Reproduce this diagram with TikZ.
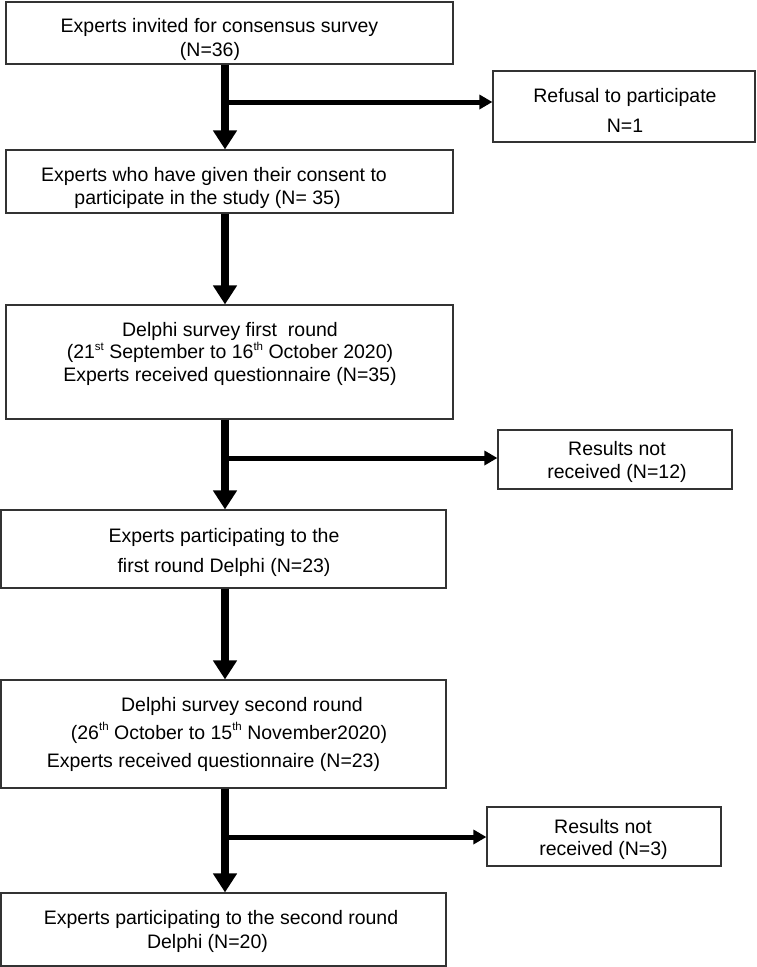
\documentclass[tikz,border=0pt]{standalone}
\usepackage{fontspec}
\setmainfont{Liberation Sans}
\usetikzlibrary{arrows.meta}
\newcommand\supx[1]{\raisebox{0.42em}{\fontsize{11.5}{12}\selectfont #1}}
\begin{document}
\begin{tikzpicture}[x=1pt,y=-1pt,
  box/.style={draw=black!80, line width=1.2pt, rectangle, inner sep=0pt},
  txt/.style={anchor=base, inner sep=0pt, font=\fontsize{19.5}{23}\selectfont},
  mainarrow/.style={line width=7.5pt, -{Triangle[width=23pt,length=19pt]}},
  sidearrow/.style={line width=5pt, -{Triangle[width=14pt,length=13pt]}}]
\useasboundingbox (0,0) rectangle (757,967);
\fill[white] (0,0) rectangle (757,967);
% boxes
\node[box, minimum width=447pt, minimum height=62pt]  (b1) at (229.5,33) {};
\node[box, minimum width=447pt, minimum height=63pt]  (b2) at (229.5,181.5) {};
\node[box, minimum width=447pt, minimum height=114pt] (b3) at (229.5,362) {};
\node[box, minimum width=445pt, minimum height=78pt]  (b4) at (223.5,549) {};
\node[box, minimum width=445pt, minimum height=108pt] (b5) at (223.5,734) {};
\node[box, minimum width=445pt, minimum height=73pt]  (b6) at (223.5,929.5) {};
\node[box, minimum width=262pt, minimum height=71pt]  (r1) at (624,106.5) {};
\node[box, minimum width=234pt, minimum height=59pt]  (r2) at (615,459.5) {};
\node[box, minimum width=234pt, minimum height=59pt]  (r3) at (604,836.5) {};
% texts
\node[txt] (t1a) at (219.5,32) {Experts invited for consensus survey};
\node[txt] (t1b) at (210,56) {(N=36)};
\node[txt] (t2a) at (214,181) {Experts who have given their consent to};
\node[txt] (t2b) at (207.5,204) {participate in the study (N= 35)};
\node[txt] (t3a) at (230,336) {Delphi survey first\ \ round};
\node[txt] (t3b) at (230,358.5) {(21\supx{st} September to 16\supx{th} October 2020)};
\node[txt] (t3c) at (230,381) {Experts received questionnaire (N=35)};
\node[txt] (t4a) at (224,542) {Experts participating to the};
\node[txt] (t4b) at (224,572) {first round Delphi (N=23)};
\node[txt] (t5a) at (242,711) {Delphi survey second round};
\node[txt] (t5b) at (229,739) {(26\supx{th} October to 15\supx{th} November2020)};
\node[txt] (t5c) at (213.5,767) {Experts received questionnaire (N=23)};
\node[txt] (t6a) at (221,924) {Experts participating to the second round};
\node[txt] (t6b) at (207.5,948) {Delphi (N=20)};
\node[txt] (s1a) at (625,102) {Refusal to participate};
\node[txt] (s1b) at (625,132) {N=1};
\node[txt] (s2a) at (617,455) {Results not};
\node[txt] (s2b) at (617,478) {received (N=12)};
\node[txt] (s3a) at (603,833) {Results not};
\node[txt] (s3b) at (603.5,855) {received (N=3)};
% connectors
\coordinate (spine) at (225,0);
\draw[mainarrow] (b1.south -| spine) -- (b2.north -| spine);
\draw[mainarrow] (b2.south -| spine) -- (b3.north -| spine);
\draw[mainarrow] (b3.south -| spine) -- (b4.north -| spine);
\draw[mainarrow] (b4.south -| spine) -- (b5.north -| spine);
\draw[mainarrow] (b5.south -| spine) -- (b6.north -| spine);
\coordinate (j1) at (225,102);
\coordinate (j2) at (225,458);
\coordinate (j3) at (225,837);
\draw[sidearrow] (j1) -- (j1 -| r1.west);
\draw[sidearrow] (j2) -- (j2 -| r2.west);
\draw[sidearrow] (j3) -- (j3 -| r3.west);
\end{tikzpicture}
\end{document}
